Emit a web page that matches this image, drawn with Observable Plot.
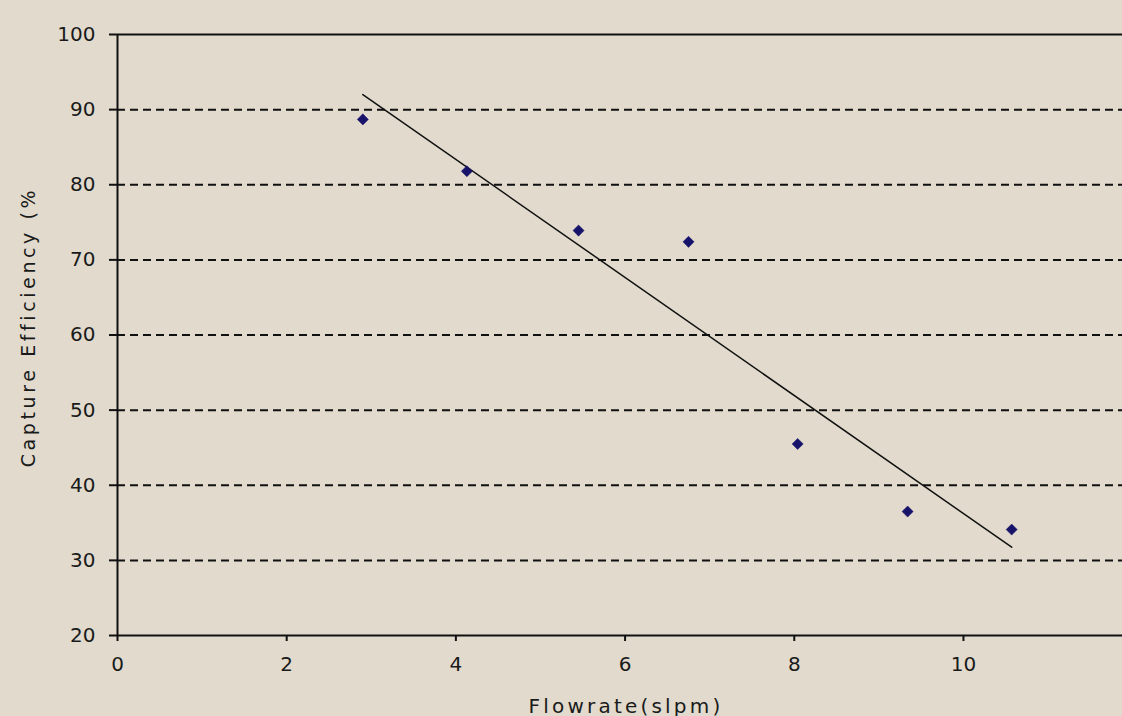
<!DOCTYPE html>
<html>
<head>
<meta charset="utf-8">
<script src="https://cdn.jsdelivr.net/npm/d3@7"></script>
<script src="https://cdn.jsdelivr.net/npm/@observablehq/plot@0.6"></script>
<style>
  html, body { margin: 0; padding: 0; background: #e1dacd; overflow: hidden; }
  #chart svg { display: block; }
</style>
</head>
<body>
<div id="chart"></div>
<script>
// Data
const flowrate = [2.9, 4.13, 5.45, 6.75, 8.04, 9.34, 10.57];
const efficiency = [88.7, 81.8, 73.9, 72.4, 45.5, 36.5, 34.1];
const xTicks = [0, 2, 4, 6, 8, 10];
const yTicks = [20, 30, 40, 50, 60, 70, 80, 90, 100];
const gridValues = [30, 40, 50, 60, 70, 80, 90];
const xLabel = "Flowrate(slpm)";
const yLabel = "Capture Efficiency (%";

const data = flowrate.map((x, i) => ({x, y: efficiency[i]}));

const chart = Plot.plot({
  width: 1122,
  height: 716,
  marginLeft: 117,
  marginTop: 34,
  marginBottom: 81,
  marginRight: 0,
  style: {background: "#e1dacd", fontFamily: "DejaVu Sans", color: "#1a1a1a"},
  x: {domain: [0, 11.88]},
  y: {domain: [20, 100]},
  marks: [
    Plot.ruleY(gridValues, {stroke: "#111", strokeWidth: 2, strokeDasharray: "8,5"}),
    Plot.ruleY([100], {stroke: "#111", strokeWidth: 2}),
    Plot.ruleY([20], {stroke: "#111", strokeWidth: 2}),
    Plot.ruleX([0], {stroke: "#111", strokeWidth: 2}),
    Plot.linearRegressionY(data, {x: "x", y: "y", ci: 0, stroke: "#111", strokeWidth: 1.5}),
    Plot.dot(data, {x: "x", y: "y", symbol: "diamond2", r: 5, fill: "#17136b", stroke: "#17136b", strokeWidth: 0.5}),
    Plot.axisY({ticks: yTicks, tickSize: 8, tickPadding: 14, fontSize: 20, stroke: "#111", strokeWidth: 2, label: null, color: "#1a1a1a"}),
    Plot.axisX({ticks: xTicks, tickSize: 6, tickPadding: 15, fontSize: 20, stroke: "#111", strokeWidth: 2, label: null, color: "#1a1a1a"}),
    Plot.text([yLabel], {frameAnchor: "left", textAnchor: "middle", rotate: -90, dx: -89, dy: -8, text: d => d, fontSize: 19, fill: "#1a1a1a"}),
    Plot.text([xLabel], {frameAnchor: "bottom", textAnchor: "middle", lineAnchor: "top", dy: 63, dx: 6, text: d => d, fontSize: 20, fill: "#1a1a1a"})
  ]
});

d3.select(chart).selectAll("text").filter(function() { return this.textContent === yLabel; }).style("letter-spacing", "3.6px");
d3.select(chart).selectAll("text").filter(function() { return this.textContent === xLabel; }).style("letter-spacing", "3.2px");
document.getElementById("chart").appendChild(chart);
</script>
</body>
</html>
